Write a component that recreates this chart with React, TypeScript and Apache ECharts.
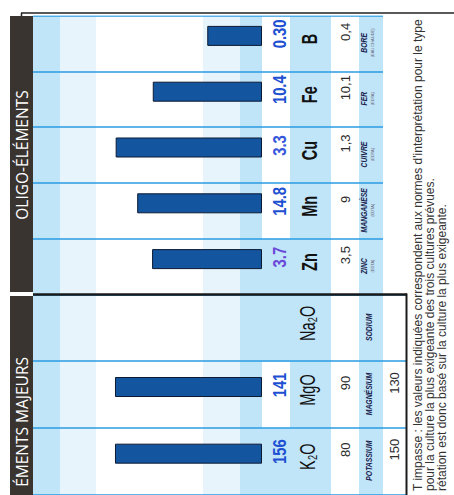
import { useEffect, useRef } from "react";
import * as echarts from "echarts";

// Éléments majeurs
const majeursSymboles = ["K₂O", "MgO", "Na₂O"];
const majeursNoms = ["POTASSIUM", "MAGNÉSIUM", "SODIUM"];
const majeursMesures = ["156", "141", ""];
const majeursIndices: (number | null)[] = [64.2, 64.2, null];
const majeursNormes = ["80", "90", ""];
const majeursNormesHautes = ["150", "130", ""];
const majeursSurligne = [true, false, true];

// Oligo-éléments
const oligoSymboles = ["Zn", "Mn", "Cu", "Fe", "B"];
const oligoNoms = ["ZINC", "MANGANÈSE", "CUIVRE", "FER", "BORE"];
const oligoMethodes = ["(EDTA)", "(EDTA)", "(EDTA)", "(EDTA)", "(EAU CHAUDE)"];
const oligoMesures = ["3.7", "14.8", "3.3", "10.4", "0.30"];
const oligoIndices = [48.0, 54.5, 63.9, 47.7, 23.9];
const oligoNormes = ["3,5", "9", "1,3", "10,1", "0,4"];
const oligoSurligne = [true, false, false, false, false];

// Interpretation zones on the 0–100 index scale
const seuils = [0, 9.6, 25.8, 72.5, 88.2, 100];

const titres = ["ÉMENTS MAJEURS", "OLIGO-ÉLÉMENTS"];

const note = [
  "T impasse : les valeurs indiquées correspondent aux normes d'interprétation pour le type",
  "pour la culture la plus exigeante des trois cultures prévues.",
  "rétation est donc basé sur la culture la plus exigeante.",
];

const SANS = "'Liberation Sans', Arial, sans-serif";
const CLAIR = "#c0e4f8";
const TRES_CLAIR = "#e7f4fc";
const TRAIT = "#2a9be2";
const BLEU = "#1e50d2";
const VIOLET = "#6a48d8";
const couleursZones = [CLAIR, TRES_CLAIR, "#ffffff", TRES_CLAIR, CLAIR];
const couleursMajeurs = [BLEU, BLEU, BLEU];
const couleursOligo = [VIOLET, BLEU, "#3656dc", BLEU, BLEU];

function texte(text: string, x: number, y: number, o: any) {
  return {
    type: "text",
    x,
    y,
    scaleX: o.sx ?? 1,
    z2: 5,
    style: {
      text,
      fill: o.fill ?? "#222",
      fontSize: o.size,
      fontWeight: o.weight ?? "normal",
      fontStyle: o.fontStyle ?? "normal",
      fontFamily: o.family ?? SANS,
      align: o.align ?? "center",
      verticalAlign: "middle",
      textAlign: o.align ?? "center",
      textVerticalAlign: "middle",
    },
  };
}

function etiquettes(t: any) {
  return (_p: any, api: any) => {
    const i = api.value(0) as number;
    const [cx, y0] = api.coord([i, 0]);
    const bw = api.size([1, 0])[0];
    const children: any[] = [];
    if (t.surligne[i]) {
      children.push({
        type: "rect",
        shape: { x: cx - bw / 2, y: y0, width: bw, height: 28 },
        style: { fill: CLAIR },
      });
    }
    if (t.mesures[i]) {
      children.push(texte(t.mesures[i], cx + 10, y0 + 18, { size: 19, weight: "bold", sx: 0.78, fill: t.couleurs[i] }));
    }
    children.push(texte(t.symboles[i], cx + 5, y0 + t.ySymbole, { size: 22, weight: t.poids, sx: 0.66, fill: "#111" }));
    if (t.normes[i]) {
      children.push(texte(t.normes[i], cx + 12, y0 + 83, { size: 13, fill: "#2c2c2c" }));
    }
    children.push(texte(t.noms[i], cx + 1, y0 + t.yNom, { size: 9.5, weight: "bold", fontStyle: "italic", sx: 0.72, fill: "#1b2550" }));
    if (t.methodes) {
      children.push(texte(t.methodes[i], cx + 1, y0 + 110.5, { size: 4, fill: "#667" }));
    }
    if (t.normesHautes && t.normesHautes[i]) {
      children.push(texte(t.normesHautes[i], cx + 12, y0 + 132, { size: 13, fill: "#2c2c2c" }));
    }
    return { type: "group", children };
  };
}

function axeCategories(gridIndex: number, data: string[], longueurTrait: number) {
  return {
    type: "category",
    gridIndex,
    data,
    boundaryGap: true,
    z: 3,
    axisLine: { show: false },
    axisLabel: { show: false, interval: 0 },
    axisTick: { show: true, interval: 0, length: longueurTrait, lineStyle: { color: TRAIT, width: 1.5 } },
    splitLine: { show: true, interval: 0, lineStyle: { color: TRAIT, width: 1.5 } },
  };
}

function axeIndice(gridIndex: number) {
  return { type: "value", gridIndex, min: 0, max: 100, show: false };
}

function barres(nom: string, data: (number | null)[], index: number) {
  const zones = couleursZones.map((c, k) => [
    { yAxis: seuils[k], itemStyle: { color: c } },
    { yAxis: seuils[k + 1] },
  ]);
  return [
    {
      type: "bar",
      xAxisIndex: index,
      yAxisIndex: index,
      data: data.map(() => null),
      barWidth: 20,
      barGap: "-20%",
      silent: true,
    },
    {
      type: "bar",
      name: nom,
      xAxisIndex: index,
      yAxisIndex: index,
      data,
      barWidth: 20,
      barGap: "-20%",
      itemStyle: { color: "#1455a0", borderColor: "#0c1a33", borderWidth: 1 },
      markArea: { silent: true, data: zones },
    },
  ];
}

const enTete = (text: string, x: number, align: string) => ({
  type: "text", silent: true, z: 7, x, y: 22,
  style: {
    text, fill: "#ffffff", fontSize: 15.5, fontWeight: "normal",
    fontFamily: "'Open Sans', sans-serif",
    align, verticalAlign: "middle", textAlign: align, textVerticalAlign: "middle",
  },
});

const option: any = {
  animation: false,
  backgroundColor: "#ffffff",
  grid: [
    { left: -7, top: 33, width: 207, height: 229 },
    { left: 200, top: 33, width: 279, height: 229 },
  ],
  xAxis: [axeCategories(0, majeursSymboles, 145), axeCategories(1, oligoSymboles, 121)],
  yAxis: [axeIndice(0), axeIndice(1)],
  series: [
    ...barres("Éléments majeurs", majeursIndices, 0),
    ...barres("Oligo-éléments", oligoIndices, 1),
    {
      type: "custom",
      xAxisIndex: 0,
      yAxisIndex: 0,
      silent: true,
      encode: { x: 0, y: 1 },
      data: majeursSymboles.map((_, i) => [i, 0]),
      renderItem: etiquettes({
        symboles: majeursSymboles,
        noms: majeursNoms,
        mesures: majeursMesures,
        couleurs: couleursMajeurs,
        normes: majeursNormes,
        normesHautes: majeursNormesHautes,
        surligne: majeursSurligne,
        poids: "normal",
        ySymbole: 45,
        yNom: 107,
      }),
    },
    {
      type: "custom",
      xAxisIndex: 1,
      yAxisIndex: 1,
      silent: true,
      encode: { x: 0, y: 1 },
      data: oligoSymboles.map((_, i) => [i, 0]),
      renderItem: etiquettes({
        symboles: oligoSymboles,
        noms: oligoNoms,
        methodes: oligoMethodes,
        mesures: oligoMesures,
        couleurs: couleursOligo,
        normes: oligoNormes,
        surligne: oligoSurligne,
        poids: "bold",
        ySymbole: 47,
        yNom: 102,
      }),
    },
  ],
  graphic: {
    elements: [
      // table rows under the bars
      { type: "rect", silent: true, z: 1, shape: { x: 0, y: 290, width: 479, height: 41 }, style: { fill: CLAIR } },
      { type: "rect", silent: true, z: 1, shape: { x: 0, y: 359, width: 479, height: 24 }, style: { fill: CLAIR } },
      // margin beyond the last column
      { type: "rect", silent: true, z: 5, shape: { x: 479.5, y: 0, width: 20, height: 454 }, style: { fill: "#ffffff" } },
      // section headers
      { type: "rect", silent: true, z: 6, shape: { x: 0, y: 10, width: 199, height: 23 }, style: { fill: "#3a3431" } },
      { type: "rect", silent: true, z: 6, shape: { x: 203, y: 10, width: 276, height: 23 }, style: { fill: "#3a3431" } },
      enTete(titres[0], 138, "right"),
      enTete(titres[1], 340, "center"),
      // frame lines
      { type: "line", silent: true, z: 8, shape: { x1: 482, y1: 21, x2: 482, y2: 454 }, style: { stroke: "#222", lineWidth: 1.5 } },
      { type: "line", silent: true, z: 8, shape: { x1: 482, y1: 21.5, x2: 479, y2: 21.5 }, style: { stroke: "#222", lineWidth: 1.5 } },
      { type: "line", silent: true, z: 8, shape: { x1: 200.5, y1: 33, x2: 200.5, y2: 407 }, style: { stroke: "#1a1a1a", lineWidth: 2.5 } },
      { type: "line", silent: true, z: 8, shape: { x1: 0, y1: 406.5, x2: 201.5, y2: 406.5 }, style: { stroke: "#1a1a1a", lineWidth: 2 } },
      // footnote
      ...note.map((ligne, k) => ({
        type: "text", silent: true, z: 8, x: 4, y: 418 + k * 12,
        style: { text: ligne, fill: "#333", fontSize: 12, fontFamily: SANS, align: "left", verticalAlign: "middle", textAlign: "left", textVerticalAlign: "middle" },
      })),
    ],
  },
};

export default function App() {
  const ref = useRef<HTMLDivElement>(null);
  useEffect(() => {
    const chart = echarts.init(ref.current!, undefined, { renderer: "svg" });
    chart.setOption(option);
    return () => chart.dispose();
  }, []);
  return (
    <div style={{ position: "fixed", left: 0, top: 0, width: 454, height: 495, overflow: "hidden", background: "#fff" }}>
      <div
        ref={ref}
        style={{
          position: "absolute",
          left: 0,
          top: 0,
          width: 495,
          height: 454,
          transformOrigin: "0 0",
          transform: "translateY(495px) rotate(-90deg)",
        }}
      />
    </div>
  );
}
